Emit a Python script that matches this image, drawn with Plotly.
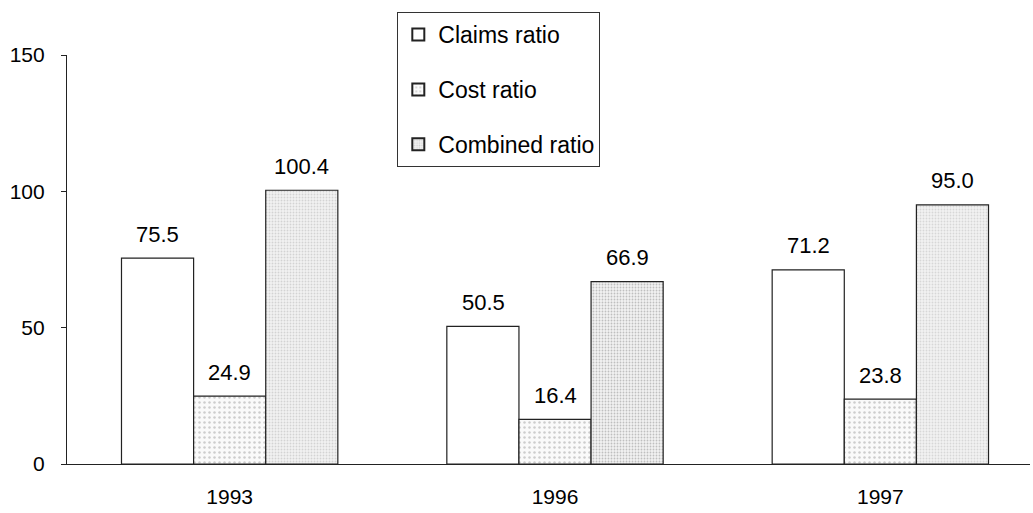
import plotly.graph_objects as go

years = ["1993", "1996", "1997"]
claims_ratio = [75.5, 50.5, 71.2]
cost_ratio = [24.9, 16.4, 23.8]
combined_ratio = [100.4, 66.9, 95.0]
series_names = ["Claims ratio", "Cost ratio", "Combined ratio"]
y_ticks = [0, 50, 100, 150]

FONT = "Liberation Sans, Arial, sans-serif"
FS_TICK = 21
FS_LABEL = 22
FS_LEG = 23
BAR_PX = 72

fig = go.Figure()
fig.add_trace(go.Bar(
    x=years, y=claims_ratio, name=series_names[0], legendgroup="a",
    marker=dict(color="white", line=dict(color="#222", width=1.2)),
))
fig.add_trace(go.Bar(
    x=years, y=cost_ratio, name=series_names[1], legendgroup="b",
    marker=dict(color="white", line=dict(color="#222", width=1.2),
                pattern=dict(shape=".", fgcolor="#a0a0a0", bgcolor="#fafafa",
                             size=5, solidity=0.2)),
))
fig.add_trace(go.Bar(
    x=years, y=combined_ratio, name=series_names[2], legendgroup="c",
    marker=dict(color="white", line=dict(color="#222", width=1.2),
                pattern=dict(shape=".", fgcolor=["#b4b4b4", "#8c8c8c", "#bcbcbc"],
                             bgcolor="#f2f2f2", size=3, solidity=0.3)),
))

for i, vals in enumerate([claims_ratio, cost_ratio, combined_ratio]):
    for j, v in enumerate(vals):
        fig.add_annotation(
            x=j, y=v, text=f"{v:.1f}", showarrow=False,
            xshift=(i - 1) * BAR_PX, yshift=24,
            font=dict(family=FONT, size=FS_LABEL, color="black"),
        )

fig.update_layout(
    width=1033, height=513,
    margin=dict(l=67, r=3, t=55, b=49),
    paper_bgcolor="white", plot_bgcolor="white",
    barmode="group", bargap=0.335, bargroupgap=0,
    font=dict(family=FONT, size=FS_TICK, color="black"),
    showlegend=True,
    legend=dict(
        x=0.343, y=1.105, xanchor="left", yanchor="top",
        bordercolor="#333", borderwidth=1, bgcolor="white",
        font=dict(family=FONT, size=FS_LEG, color="black"),
        tracegroupgap=22, itemsizing="constant", itemwidth=30,
        entrywidth=165, entrywidthmode="pixels",
    ),
    xaxis=dict(
        type="category", range=[-0.5, 2.46], showline=True, linecolor="#222",
        linewidth=1.2, ticks="", showgrid=False, tickfont=dict(size=FS_TICK),
        ticklabelstandoff=14,
    ),
    yaxis=dict(
        range=[0, 150], tickvals=y_ticks, showline=True, linecolor="#222",
        linewidth=1.2, ticks="outside", ticklen=5, tickcolor="#222",
        showgrid=False, zeroline=False, tickfont=dict(size=FS_TICK),
        ticklabelstandoff=12,
    ),
)

fig.write_html("out.html")
